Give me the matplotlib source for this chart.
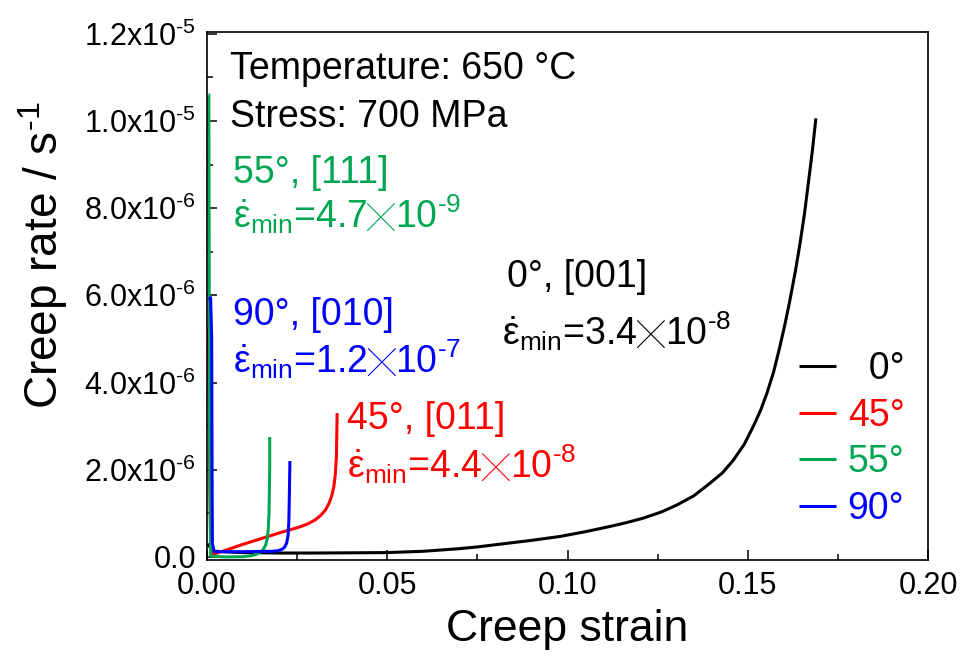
import matplotlib
matplotlib.use("Agg")
import matplotlib.pyplot as plt
import matplotlib.transforms as mtransforms
from matplotlib.ticker import FixedLocator, MultipleLocator

plt.rcParams['font.family'] = ['Liberation Sans', 'DejaVu Sans']
plt.rcParams['mathtext.fontset'] = 'custom'
plt.rcParams['mathtext.rm'] = 'Liberation Sans'
plt.rcParams['mathtext.it'] = 'Liberation Sans'
plt.rcParams['mathtext.bf'] = 'Liberation Sans:bold'
plt.rcParams['mathtext.default'] = 'regular'

# ---- data: creep strain vs creep rate (1e-6 /s) ----
strain_0 = [0.0, 0.002, 0.01, 0.02, 0.03, 0.04, 0.05, 0.055, 0.06, 0.065,
            0.07, 0.075, 0.08, 0.085, 0.09, 0.0979, 0.105, 0.1118, 0.1165,
            0.1210, 0.1260, 0.1303, 0.1350, 0.1395, 0.1430, 0.1460, 0.1490,
            0.1515, 0.1535, 0.1553, 0.1572, 0.1589, 0.1603, 0.1617, 0.1632,
            0.1645, 0.1657, 0.1668, 0.1679, 0.1689]
rate_0 = [0.30, 0.13, 0.10, 0.09, 0.09, 0.095, 0.10, 0.115, 0.13, 0.16,
          0.19, 0.23, 0.28, 0.33, 0.38, 0.47, 0.58, 0.70, 0.79,
          0.89, 1.03, 1.19, 1.40, 1.69, 1.93, 2.22, 2.58,
          2.99, 3.35, 3.75, 4.25, 4.82, 5.33, 5.89, 6.55,
          7.19, 7.85, 8.57, 9.30, 10.06]

strain_45 = [0.0004, 0.0006, 0.0008, 0.0010, 0.0013, 0.005, 0.010, 0.015,
             0.020, 0.0258, 0.028, 0.030, 0.0315, 0.0328, 0.0338, 0.0346,
             0.0352, 0.0356, 0.0359, 0.0360, 0.0361]
rate_45 = [5.28, 3.5, 1.5, 0.4, 0.05, 0.15, 0.29, 0.42,
           0.55, 0.69, 0.76, 0.85, 0.95, 1.07, 1.22, 1.40,
           1.62, 1.90, 2.30, 2.80, 3.30]

strain_55 = [0.0004, 0.0005, 0.0007, 0.0010, 0.005, 0.010, 0.012, 0.0135,
             0.0148, 0.0157, 0.0163, 0.0167, 0.0170, 0.0172, 0.0173,
             0.0174, 0.0174]
rate_55 = [10.6, 10.6, 3.0, 0.02, 0.0, 0.005, 0.025, 0.055,
           0.11, 0.18, 0.28, 0.42, 0.65, 1.0, 1.5,
           2.1, 2.75]

strain_90 = [0.0005, 0.0010, 0.0013, 0.0014, 0.0015, 0.002, 0.010, 0.018,
             0.0195, 0.0207, 0.0215, 0.0221, 0.0225, 0.0227, 0.0228,
             0.0229, 0.0230]
rate_90 = [5.90, 5.95, 5.0, 2.0, 0.3, 0.12, 0.12, 0.13,
           0.14, 0.17, 0.22, 0.32, 0.50, 0.80, 1.20,
           1.70, 2.20]

series_labels = ['  0°', '45°', '55°', '90°']
series_colors = ['#000000', '#FF0000', '#00A651', '#0000FF']

ytick_vals = [0, 2e-6, 4e-6, 6e-6, 8e-6, 1.0e-5, 1.2e-5]
ytick_text = ['0.0', r'2.0x10$^{\text{-}6}$', r'4.0x10$^{\text{-}6}$',
              r'6.0x10$^{\text{-}6}$', r'8.0x10$^{\text{-}6}$',
              r'1.0x10$^{\text{-}5}$', r'1.2x10$^{\text{-}5}$']
xtick_vals = [0.00, 0.05, 0.10, 0.15, 0.20]
xtick_text = ['0.00', '0.05', '0.10', '0.15', '0.20']

fig = plt.figure(figsize=(9.65, 6.56), dpi=100)
ax = fig.add_axes([207 / 965, 96 / 656, 721 / 965, 528 / 656])

curves = [(strain_0, rate_0), (strain_45, rate_45),
          (strain_55, rate_55), (strain_90, rate_90)]
for (sx, sy), lab, col in zip(curves, series_labels, series_colors):
    ax.plot(sx, [v * 1e-6 for v in sy], color=col, lw=2.2, label=lab,
            solid_joinstyle='round', solid_capstyle='butt')

ax.set_xlim(0, 0.20)
ax.set_ylim(-0.07e-6, 1.204e-5)
ax.xaxis.set_major_locator(FixedLocator(xtick_vals))
ax.set_xticklabels(xtick_text)
ax.xaxis.set_minor_locator(MultipleLocator(0.025))
ax.yaxis.set_major_locator(FixedLocator(ytick_vals))
ax.set_yticklabels(ytick_text)
ax.yaxis.set_minor_locator(MultipleLocator(1e-6))
ax.tick_params(which='both', direction='in', top=False, right=False,
               labelsize=22, width=1.1)
ax.tick_params(which='major', length=7, pad=8)
ax.tick_params(which='minor', length=4)
for sp in ax.spines.values():
    sp.set_linewidth(1.2)

ax.set_xlabel('Creep strain', fontsize=32)
ax.set_ylabel(r'Creep rate / s$^{\text{-}1}$', fontsize=33)
ax.xaxis.set_label_coords(0.5, -0.092)
ax.yaxis.set_label_coords(-0.19, 0.578)

leg = ax.legend(loc='upper left', bbox_to_anchor=(0.821, 0.395), frameon=False,
                fontsize=27, handlelength=1.0, handletextpad=0.3,
                labelspacing=0.28, borderpad=0, borderaxespad=0)
for txt, col in zip(leg.get_texts(), series_colors):
    txt.set_color(col)

renderer = fig.canvas.get_renderer()


def text_run(x, y, pieces, color, size=27):
    dx = 0.0
    for s, fam, fs in pieces:
        tr = ax.transAxes + mtransforms.Affine2D().translate(dx, 0)
        t = ax.text(x, y, s, transform=tr, color=color,
                    fontsize=fs if fs else size,
                    family=fam if fam else ['Liberation Sans', 'DejaVu Sans'],
                    va='baseline', ha='left')
        dx += t.get_window_extent(renderer).width


def rate_line(x, y, mant, expo, color):
    text_run(x, y, [(r'$\dot{\varepsilon}_{min}$=' + mant, None, None),
                    ('╳', ['Noto Sans CJK JP'], 20),
                    (r'10$^{\text{' + expo + '}}$', None, None)], color)


text_run(0.032, 0.911, [('Temperature: 650 °C', None, None)], 'black')
text_run(0.032, 0.820, [('Stress: 700 MPa', None, None)], 'black')

text_run(0.036, 0.714, [('55°, [111]', None, None)], series_colors[2])
rate_line(0.036, 0.629, '4.7', '-9', series_colors[2])

text_run(0.036, 0.445, [('90°, [010]', None, None)], series_colors[3])
rate_line(0.036, 0.354, '1.2', '-7', series_colors[3])

text_run(0.416, 0.517, [('0°, [001]', None, None)], 'black')
rate_line(0.409, 0.407, '3.4', '-8', 'black')

text_run(0.194, 0.248, [('45°, [011]', None, None)], series_colors[1])
rate_line(0.194, 0.155, '4.4', '-8', series_colors[1])

fig.savefig('out.png', dpi=100)
